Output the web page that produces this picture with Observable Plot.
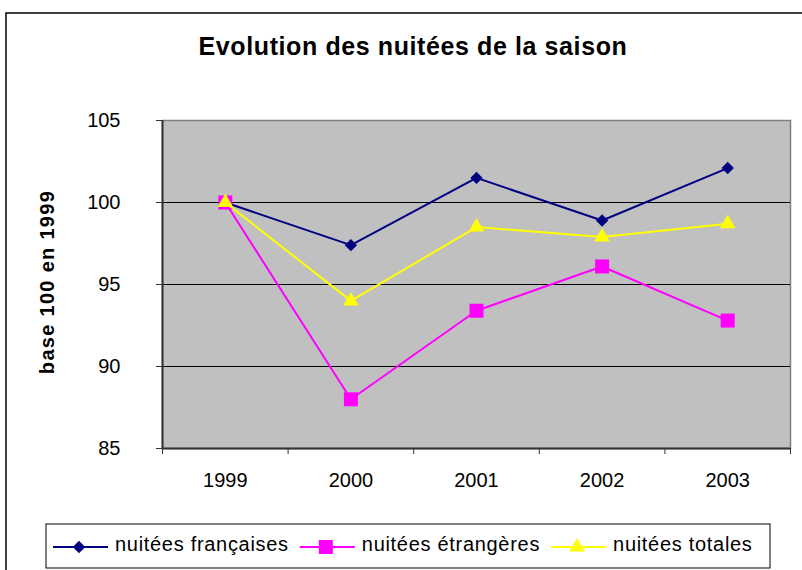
<!DOCTYPE html>
<html><head><meta charset="utf-8">
<script src="https://cdn.jsdelivr.net/npm/d3@7"></script>
<script src="https://cdn.jsdelivr.net/npm/@observablehq/plot@0.6"></script>
<style>
body{margin:0;background:#fff;}
#wrap{position:relative;width:802px;height:570px;overflow:hidden;}
</style>
</head><body><div id="wrap"></div>
<script>
const years = [1999, 2000, 2001, 2002, 2003];
const francaises = [100, 97.4, 101.5, 98.9, 102.1];
const etrangeres = [100, 88.0, 93.4, 96.1, 92.8];
const totales = [100, 94.0, 98.5, 97.9, 98.7];
const yTicks = [85, 90, 95, 100, 105];
const gridValues = [90, 95, 100];
const seriesNames = ["nuitées françaises", "nuitées étrangères", "nuitées totales"];
const seriesValues = [francaises, etrangeres, totales];
const colors = ["#000080", "#ff00ff", "#ffff00"];
const symbols = ["diamond2", "square", "triangle"];
const radii = [5.6, 7.9, 5.8];
const title = "Evolution des nuitées de la saison";
const yLabel = "base 100 en 1999";

const FONT = "'Liberation Sans', Arial, sans-serif";
const xDomain = [years[0] - 0.5, years[years.length - 1] + 0.5];
const boundaries = years.map(y => y - 0.5).concat([years[years.length - 1] + 0.5]);

const rows = seriesNames.flatMap((s, si) => years.map((yr, i) => ({year: yr, value: seriesValues[si][i], series: s})));

const seriesMarks = seriesNames.flatMap((s, si) => {
  const d = rows.filter(r => r.series === s);
  return [
    Plot.line(d, {x: "year", y: "value", stroke: colors[si], strokeWidth: 2}),
    Plot.dot(d, {x: "year", y: "value", symbol: () => symbols[si], fill: colors[si], r: radii[si], stroke: "none"})
  ];
});

const chart = Plot.plot({
  width: 802, height: 570,
  marginLeft: 162, marginRight: 12, marginTop: 120, marginBottom: 122,
  style: {fontFamily: FONT, background: "transparent", color: "#000"},
  x: {type: "linear", domain: xDomain, axis: null, label: null},
  y: {domain: [85, 105], axis: null, label: null},
  symbol: {type: "identity"},
  marks: [
    Plot.frame({fill: "#c0c0c0", stroke: "#808080", strokeWidth: 1.5}),
    Plot.ruleY(gridValues, {stroke: "#000", strokeWidth: 1}),
    Plot.ruleX([xDomain[0]], {stroke: "#333", strokeWidth: 2}),
    Plot.ruleY([85], {stroke: "#333", strokeWidth: 2}),
    Plot.axisY(yTicks, {label: null, tickSize: 6, tickPadding: 36, fontSize: 20, stroke: "#333", fill: "#000"}),
    Plot.axisX(boundaries, {label: null, tickSize: 6, tickFormat: () => "", stroke: "#333"}),
    Plot.axisX(years, {label: null, tickSize: 0, tickPadding: 24, fontSize: 20, tickFormat: d => String(d), fill: "#000"}),
    ...seriesMarks
  ]
});
document.getElementById("wrap").appendChild(chart);

const svg = d3.select(chart);
// outer border
svg.append("rect").attr("x", 6).attr("y", 13).attr("width", 900).attr("height", 900)
  .attr("fill", "none").attr("stroke", "#000").attr("stroke-width", 1.5);
// title
svg.append("text").attr("x", 413).attr("y", 55).attr("text-anchor", "middle")
  .style("font", `bold 25px ${FONT}`).style("letter-spacing", "0.6px").attr("fill", "#000").text(title);
// y label
svg.append("text").attr("transform", "translate(54,282) rotate(-90)").attr("text-anchor", "middle")
  .style("font", `bold 20px ${FONT}`).style("letter-spacing", "1.3px").attr("fill", "#000").text(yLabel);
// legend
const lg = svg.append("g");
lg.append("rect").attr("x", 46).attr("y", 524).attr("width", 724).attr("height", 44)
  .attr("fill", "#fff").attr("stroke", "#000").attr("stroke-width", 1);
let cx = 53;
const ly = 547;
seriesNames.forEach((s, si) => {
  lg.append("line").attr("x1", cx).attr("x2", cx + 55).attr("y1", ly).attr("y2", ly)
    .attr("stroke", colors[si]).attr("stroke-width", 2);
  const sym = {diamond2: d3.symbolDiamond2, square: d3.symbolSquare, triangle: d3.symbolTriangle}[symbols[si]];
  lg.append("path").attr("d", d3.symbol(sym, Math.PI * radii[si] * radii[si])())
    .attr("transform", `translate(${cx + 26},${ly})`).attr("fill", colors[si]);
  const t = lg.append("text").attr("x", cx + 62).attr("y", 551).attr("text-anchor", "start")
    .style("font", `20px ${FONT}`).style("letter-spacing", "0.7px").attr("fill", "#000").text(s);
  cx = cx + 62 + t.node().getComputedTextLength() + 11;
});
</script>
</body></html>
